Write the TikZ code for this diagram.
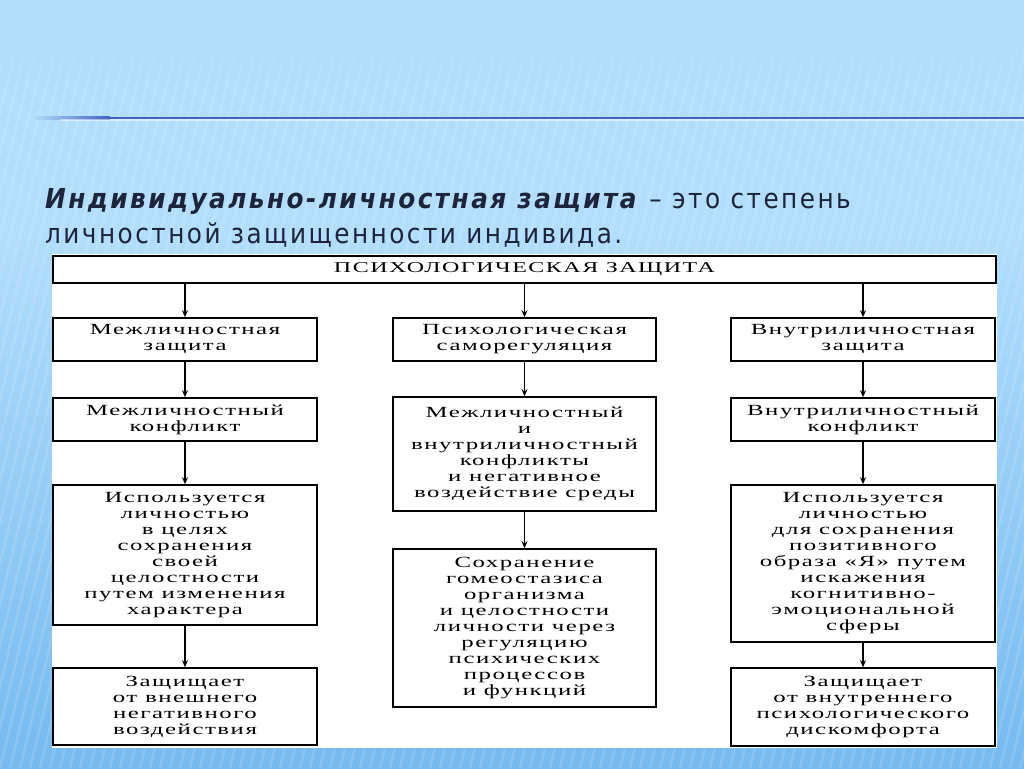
\documentclass[tikz,border=0pt]{standalone}
\usepackage{fontspec}
\setmainfont{Liberation Serif}
\newfontfamily\titlefont[LetterSpace=9]{DejaVu Sans Condensed}
\newfontfamily\boxfont[FakeStretch=1.6,LetterSpace=10]{Liberation Serif}
\usetikzlibrary{arrows.meta}
\usetikzlibrary{fadings}
\definecolor{bglight}{RGB}{178,222,252}
\definecolor{bgdark}{RGB}{118,186,240}
\definecolor{mline}{RGB}{66,98,196}
\definecolor{mtext}{RGB}{30,36,60}
\tikzset{box/.style = {draw, line width=1.6pt, fill=white, align=center, inner sep=0pt,
                       font=\boxfont\fontsize{15.5}{16}\selectfont},
         arr/.style = {line width=1.9pt, -{Stealth[length=7pt,width=6pt]}}}

\begin{document}
\begin{tikzpicture}[x=1pt, y=-1pt]
      \useasboundingbox (0,0) rectangle (1024,768);
      % background
      \fill[bglight] (0,0) rectangle (1024,768);
      \shade[top color=bglight, bottom color=bgdark] (0,230) rectangle (1024,768);
      \begin{scope}
        \clip (0,0) rectangle (1024,768);
        \foreach \s in {-200,-190,...,1100}
          \draw[white, opacity=.13, line width=2.5pt] (\s,768) -- (\s+180,30);
      \end{scope}
      \fill[bglight] (0,0) rectangle (1024,35);
      \fill[bglight, path fading=south] (0,35) rectangle (1024,85);
      \shade[left color=bglight, right color=mline] (32,116.6) rectangle (110,119.4);
      \fill[mline] (110,116.6) rectangle (1024,119.4);
      \fill[white, opacity=.5] (60,119.4) rectangle (1024,120.6);
      % title
      \node (ttl) [anchor=base west, inner sep=0pt, text=mtext,
                   font=\titlefont\fontsize{27.5}{35}\selectfont] at (45,208)
        {\textbf{\textit{Индивидуально-личностная защита}} – это степень};
      \node (ttl2) [anchor=base west, inner sep=0pt, text=mtext,
                    font=\titlefont\fontsize{27.5}{35}\selectfont] at (45,243)
        {личностной защищенности индивида.};
      % diagram
      \fill[white] (52,254) rectangle (997,748);
      \node (psy) [box, minimum width=943, minimum height=27,
                   font=\boxfont\fontsize{15}{16}\selectfont] at (524.5,269.5)
        {ПСИХОЛОГИЧЕСКАЯ ЗАЩИТА};

      \node (m1) [box, minimum width=264, minimum height=43] at (185,339.5)
        {Межличностная\\защита};
      \node (m2) [box, minimum width=264, minimum height=43] at (185,419.5)
        {Межличностный\\конфликт};
      \node (m3) [box, minimum width=264, minimum height=140] at (185,555)
        {Используется\\личностью\\в целях\\сохранения\\своей\\целостности\\путем изменения\\характера};
      \node (m4) [box, minimum width=264, minimum height=77] at (185,706.5)
        {Защищает\\от внешнего\\негативного\\воздействия};

      \node (s1) [box, minimum width=263, minimum height=43] at (524.5,339.5)
        {Психологическая\\саморегуляция};
      \node (s2) [box, minimum width=263, minimum height=114] at (524.5,454)
        {Межличностный\\и\\внутриличностный\\конфликты\\и негативное\\воздействие среды};
      \node (s3) [box, minimum width=263, minimum height=158] at (524.5,628)
        {Сохранение\\гомеостазиса\\организма\\и целостности\\личности через\\регуляцию\\психических\\процессов\\и функций};

      \node (v1) [box, minimum width=264, minimum height=43] at (863,339.5)
        {Внутриличностная\\защита};
      \node (v2) [box, minimum width=264, minimum height=43] at (863,419.5)
        {Внутриличностный\\конфликт};
      \node (v3) [box, minimum width=264, minimum height=157] at (863,563.5)
        {Используется\\личностью\\для сохранения\\позитивного\\образа «Я» путем\\искажения\\когнитивно-\\эмоциональной\\сферы};
      \node (v4) [box, minimum width=264, minimum height=78] at (863,707)
        {Защищает\\от внутреннего\\психологического\\дискомфорта};

      \draw[arr] (psy.south -| m1.north) -- (m1.north);
      \draw[arr] (psy.south -| s1.north) -- (s1.north);
      \draw[arr] (psy.south -| v1.north) -- (v1.north);
      \draw[arr] (m1) -- (m2);
      \draw[arr] (m2) -- (m3);
      \draw[arr] (m3) -- (m4);
      \draw[arr] (s1) -- (s2);
      \draw[arr] (s2) -- (s3);
      \draw[arr] (v1) -- (v2);
      \draw[arr] (v2) -- (v3);
      \draw[arr] (v3) -- (v4);
    \end{tikzpicture}
\end{document}
